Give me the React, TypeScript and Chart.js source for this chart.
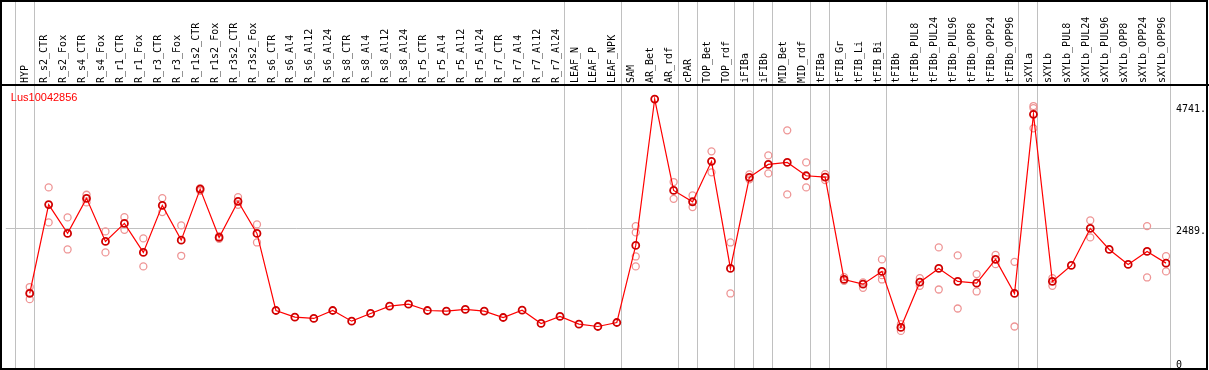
import React, { useEffect, useRef } from "react";
import { Chart, registerables } from "chart.js";

Chart.register(...registerables);

const geneId = "Lus10042856";

const categories = [
  "HYP", "R_s2_CTR", "R_s2_Fox", "R_s4_CTR", "R_s4_Fox", "R_r1_CTR", "R_r1_Fox",
  "R_r3_CTR", "R_r3_Fox", "R_r1s2_CTR", "R_r1s2_Fox", "R_r3s2_CTR", "R_r3s2_Fox",
  "R_s6_CTR", "R_s6_Al4", "R_s6_Al12", "R_s6_Al24", "R_s8_CTR", "R_s8_Al4", "R_s8_Al12",
  "R_s8_Al24", "R_r5_CTR", "R_r5_Al4", "R_r5_Al12", "R_r5_Al24", "R_r7_CTR", "R_r7_Al4",
  "R_r7_Al12", "R_r7_Al24", "LEAF_N", "LEAF_P", "LEAF_NPK", "SAM", "AR_Bet", "AR_rdf",
  "cPAR", "TOP_Bet", "TOP_rdf", "iFIBa", "iFIBb", "MID_Bet", "MID_rdf", "tFIBa",
  "tFIB_Gr", "tFIB_Li", "tFIB_Bi", "tFIBb", "tFIBb_PUL8", "tFIBb_PUL24", "tFIBb_PUL96",
  "tFIBb_OPP8", "tFIBb_OPP24", "tFIBb_OPP96", "sXYLa", "sXYLb", "sXYLb_PUL8",
  "sXYLb_PUL24", "sXYLb_PUL96", "sXYLb_OPP8", "sXYLb_OPP24", "sXYLb_OPP96",
];

const meanValues = [
  1276, 2926, 2391, 3041, 2242, 2576, 2038, 2911, 2266, 3213, 2316, 2985, 2391,
  960, 836, 812, 960, 762, 905, 1040, 1077, 960, 947, 979, 947, 830, 966, 719, 849,
  706, 663, 737, 2168, 4885, 3189, 2978, 3728, 1740, 3431, 3672, 3709, 3461, 3436,
  1536, 1449, 1685, 645, 1486, 1740, 1499, 1467, 1908, 1276, 4601, 1499, 1796,
  2483, 2093, 1815, 2056, 1839,
];

const replicateValues: number[][] = [
  [1395, 1290, 1170], [3245, 2595], [2688, 2093], [3108, 2966], [2428, 2038],
  [2693, 2458], [2298, 1778], [3046, 2786], [2539, 1975], [3232, 3182], [2340, 2290],
  [3065, 2922], [2558, 2223],
  [], [], [], [], [], [], [], [], [], [], [], [], [], [], [], [], [], [], [],
  [2526, 2409, 1963, 1778], [], [3344, 3033], [3096, 2879], [3914, 3524], [2223, 1276],
  [3487, 3394], [3839, 3505], [4304, 3115], [3709, 3245], [3492, 3381],
  [1579, 1510], [1480, 1380], [1908, 1616, 1536], [706, 581], [1560, 1417],
  [2131, 1350], [1982, 997], [1635, 1313], [1993, 1820], [1863, 663],
  [4755, 4718, 4341], [1560, 1417], [], [2632, 2316], [], [], [2526, 1573], [1969, 1685],
];

// index of the last category in each group (separator drawn just after it)
const groupEnds = [-1, 0, 28, 31, 34, 35, 37, 38, 39, 41, 42, 45, 52, 53, 60];

const yTicks = [0, 2489, 4741];
const yTickLabels = ["0", "2489.", "4741."];

const W = 1209;
const H = 370;
const X_MIN = -1.263;
const X_MAX = 60.21;
const SEP_OFFSET = 0.21;
const Y_MIN = -37;
const Y_MAX = 5127;

const framePlugin = {
  id: "efpFrame",
  beforeDatasetsDraw(chart: any) {
    const { ctx, chartArea, scales } = chart;
    const x = scales.x;
    ctx.save();
    ctx.strokeStyle = "#c0c0c0";
    ctx.lineWidth = 1;
    groupEnds.forEach((g) => {
      const px = Math.round(x.getPixelForValue(g + SEP_OFFSET)) + 0.5;
      ctx.beginPath();
      ctx.moveTo(px, 0);
      ctx.lineTo(px, H);
      ctx.stroke();
    });
    ctx.strokeStyle = "#000000";
    ctx.lineWidth = 2;
    ctx.strokeRect(1, 1, W - 3, H - 2);
    ctx.beginPath();
    ctx.moveTo(0, chartArea.top - 1);
    ctx.lineTo(W, chartArea.top - 1);
    ctx.stroke();
    ctx.fillStyle = "#ff0000";
    ctx.font = '11px "Liberation Sans", Arial, sans-serif';
    ctx.textBaseline = "alphabetic";
    ctx.textAlign = "left";
    ctx.fillText(geneId, chartArea.left + 5, chartArea.top + 15);
    ctx.restore();
  },
};

export default function App() {
  const ref = useRef<HTMLCanvasElement | null>(null);

  useEffect(() => {
    if (!ref.current) return;
    const meanData = meanValues.map((v, i) => ({ x: i, y: v }));
    const repData: { x: number; y: number }[] = [];
    replicateValues.forEach((reps, i) => reps.forEach((v) => repData.push({ x: i, y: v })));

    const chart = new Chart(ref.current, {
      type: "scatter",
      data: {
        datasets: [
          {
            label: "mean",
            data: meanData,
            showLine: true,
            borderColor: "#ff0000",
            borderWidth: 1.2,
            pointRadius: 3.5,
            pointStyle: "circle",
            pointBorderColor: "#d00000",
            pointBorderWidth: 1.8,
            pointBackgroundColor: "rgba(0,0,0,0)",
            order: 0,
          },
          {
            label: "replicates",
            data: repData,
            showLine: false,
            pointRadius: 3.5,
            pointStyle: "circle",
            pointBorderColor: "#ee9595",
            pointBorderWidth: 1.3,
            pointBackgroundColor: "rgba(0,0,0,0)",
            order: 1,
          },
        ],
      },
      options: {
        animation: false,
        responsive: false,
        devicePixelRatio: 1,
        layout: { padding: { left: 2, right: 2, top: 0, bottom: 0 } },
        plugins: { legend: { display: false }, tooltip: { enabled: false }, title: { display: false } },
        scales: {
          x: {
            type: "linear",
            position: "top",
            min: X_MIN,
            max: X_MAX,
            afterBuildTicks: (s: any) => {
              s.ticks = categories.map((_, i) => ({ value: i }));
            },
            afterFit: (s: any) => {
              s.height = 86;
              s.paddingLeft = 0;
              s.paddingRight = 0;
            },
            ticks: {
              autoSkip: false,
              minRotation: 90,
              maxRotation: 90,
              padding: 3,
              labelOffset: 8,
              color: "#000000",
              font: { family: '"DejaVu Sans Mono", monospace', size: 10 },
              callback: (v: any) => categories[v] ?? "",
            },
            grid: { display: false, drawTicks: false },
            border: { display: false },
          },
          y: {
            type: "linear",
            position: "right",
            min: Y_MIN,
            max: Y_MAX,
            afterBuildTicks: (s: any) => {
              s.ticks = yTicks.map((v) => ({ value: v }));
            },
            afterFit: (s: any) => {
              s.width = 37;
              s.paddingTop = 0;
              s.paddingBottom = 0;
            },
            ticks: {
              padding: 6,
              labelOffset: 3,
              color: "#000000",
              font: { family: '"DejaVu Sans Mono", monospace', size: 10 },
              callback: (v: any) => yTickLabels[yTicks.indexOf(v)] ?? "",
            },
            grid: {
              drawTicks: false,
              lineWidth: 1,
              color: (c: any) => (c.tick && c.tick.value === 2489 ? "#c0c0c0" : "rgba(0,0,0,0)"),
            },
            border: { display: false },
          },
        },
      },
      plugins: [framePlugin],
    });
    return () => chart.destroy();
  }, []);

  return (
    <div style={{ position: "fixed", left: 0, top: 0, width: W, height: H, background: "#ffffff" }}>
      <canvas ref={ref} width={W} height={H} style={{ width: W, height: H, display: "block" }} />
    </div>
  );
}
